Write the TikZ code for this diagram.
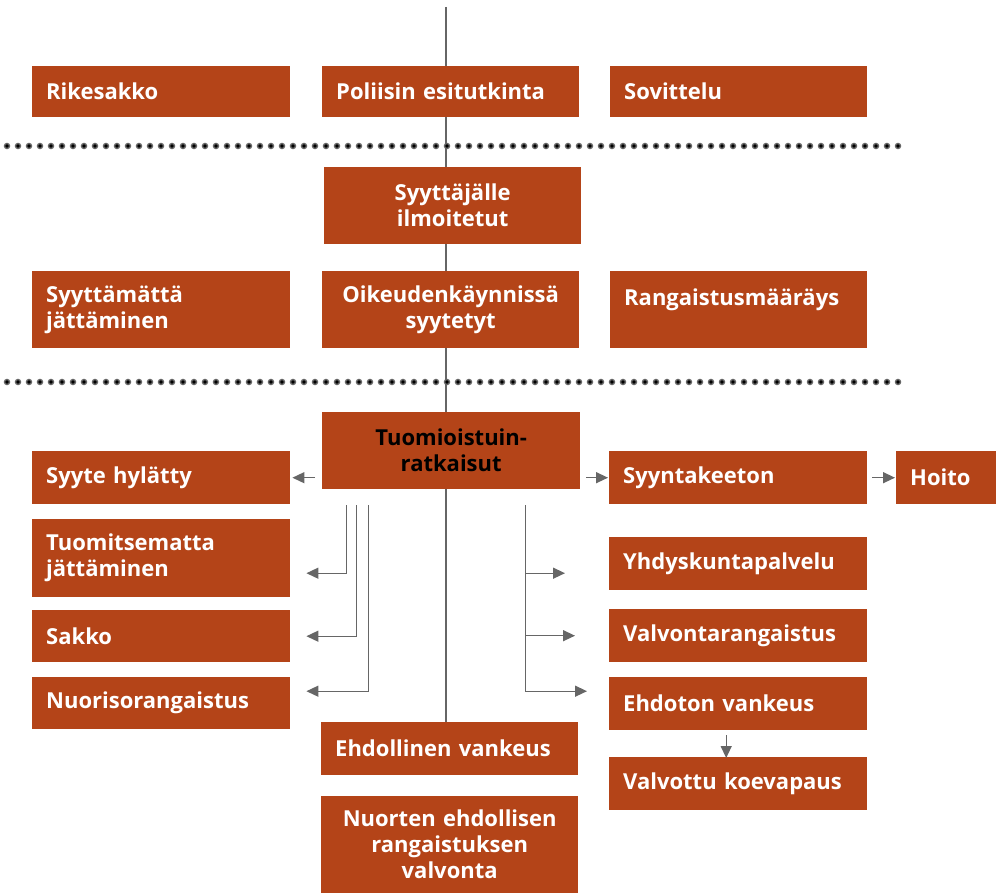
\documentclass[tikz,border=0pt]{standalone}
\usepackage{fontspec}
\setmainfont{Open Sans}
\usetikzlibrary{arrows.meta,backgrounds,calc}
\definecolor{brn}{HTML}{B44418}
\definecolor{ln}{HTML}{666666}
\begin{document}
\begin{tikzpicture}[x=1pt,y=-1pt,
  box/.style={fill=brn,text=white,font=\bfseries\fontsize{22}{26}\selectfont,
    inner xsep=14pt,inner ysep=0pt,anchor=north west,align=left},
  cbox/.style={box,align=center},
  arr/.style={draw=ln,line width=1.4pt,-{Triangle[length=12pt,width=11pt]}},
  ln/.style={draw=ln,line width=1.4pt}]
\useasboundingbox (0,0) rectangle (996,893);
\newcommand{\bx}[7]{\node[#1,text width=#5-28,minimum height=#6] (#2) at (#3,#4) {#7};}
\bx{box}{rik}{32}{66}{258}{51}{Rikesakko}
\bx{box}{pol}{322}{66}{257}{51}{Poliisin esitutkinta}
\bx{box}{sov}{610}{66}{257}{51}{Sovittelu}
\bx{cbox}{syi}{324}{167}{257}{77}{Syyttäjälle\\ilmoitetut}
\bx{box}{syj}{32}{271}{258}{77}{Syyttämättä\\jättäminen}
\bx{cbox}{oik}{322}{271}{257}{77}{Oikeudenkäynnissä\\syytetyt}
\bx{box}{ran}{610}{271}{257}{77}{Rangaistusmääräys\\\phantom{x}}
\bx{cbox,text=black}{tuo}{322}{412}{258}{77}{Tuomioistuin-\\ratkaisut}
\bx{box}{syh}{32}{451}{258}{53}{Syyte hylätty}
\bx{box}{syn}{609}{451}{258}{53}{Syyntakeeton}
\bx{box}{hoi}{896}{451}{100}{53}{Hoito}
\bx{box}{tjt}{32}{519}{258}{78}{Tuomitsematta\\jättäminen}
\bx{box}{sak}{32}{610}{258}{52}{Sakko}
\bx{box}{nuo}{32}{677}{258}{52}{Nuorisorangaistus}
\bx{box}{yhd}{609}{537}{258}{53}{Yhdyskuntapalvelu}
\bx{box}{val}{609}{609}{258}{53}{Valvontarangaistus}
\bx{box}{ehv}{609}{677}{258}{53}{Ehdoton vankeus}
\bx{box}{vko}{609}{757}{258}{53}{Valvottu koevapaus}
\bx{box}{ehd}{321}{722}{257}{53}{Ehdollinen vankeus}
\bx{cbox}{nev}{321}{796}{257}{97}{Nuorten ehdollisen\\rangaistuksen\\valvonta}
\coordinate (top) at (446,7);
\begin{scope}[on background layer]
\draw[ln] (top) -- (top |- ehd.north);
\end{scope}
\foreach \i in {0,...,81}{
  \fill[ln] (7+\i*11,146) circle (2.5);
  \fill[ln] (7+\i*11,382) circle (2.5);
}
\draw[arr] ([xshift=-7pt]tuo.west |- syh.east) -- ([xshift=2pt]syh.east);
\draw[arr] ([xshift=6pt]tuo.east |- syn.west) -- ([xshift=-1pt]syn.west);
\draw[arr] ([xshift=5pt]syn.east) -- ([xshift=-1pt]hoi.west);
\draw[arr] ([xshift=-12pt,yshift=-5pt]ehv.south) -- ([xshift=-12pt,yshift=-1pt]vko.north);
\coordinate (l1) at ([xshift=-105pt,yshift=-16pt]tuo.south);
\coordinate (l2) at ([xshift=-95pt,yshift=-16pt]tuo.south);
\coordinate (l3) at ([xshift=-83pt,yshift=-16pt]tuo.south);
\draw[arr] (l1) |- ([xshift=16pt,yshift=-15pt]tjt.east);
\draw[arr] (l2) |- ([xshift=16pt]sak.east);
\draw[arr] (l3) |- ([xshift=16pt,yshift=12pt]nuo.east);
\coordinate (r) at ([xshift=74pt,yshift=-16pt]tuo.south);
\draw[arr] (r) |- ([xshift=-44pt,yshift=-9.5pt]yhd.west);
\draw[arr] (r) |- ([xshift=-34pt]val.west);
\draw[arr] (r) |- ([xshift=-22pt,yshift=12.5pt]ehv.west);
\end{tikzpicture}
\end{document}
